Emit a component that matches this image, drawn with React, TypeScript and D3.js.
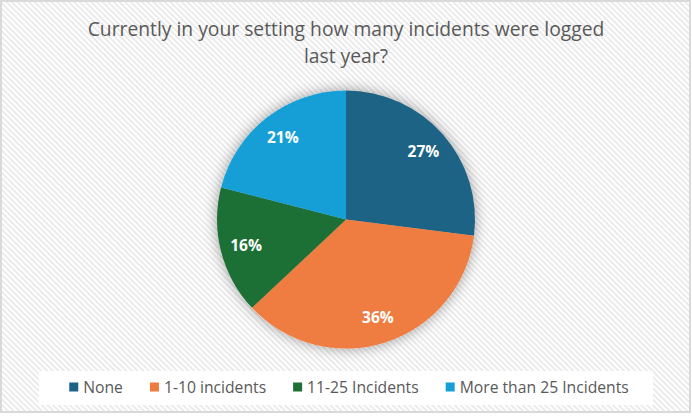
import { useMemo } from "react";
import * as d3 from "d3";

const categories = ["None", "1-10 incidents", "11-25 Incidents", "More than 25 Incidents"];
const shares = [27, 36, 16, 21];
const colors = ["#1d6386", "#ef7b3f", "#1e7036", "#159fd6"];
const titleLines = ["Currently in your setting how many incidents were logged", "last year?"];

const W = 692;
const H = 416;
const FONT = "'Open Sans', 'Noto Sans', sans-serif";

function measure(text: string, size: number) {
  const ctx = document.createElement("canvas").getContext("2d");
  if (!ctx) return text.length * size * 0.55;
  ctx.font = `${size}px ${FONT}`;
  return ctx.measureText(text).width;
}

export default function App() {
  const cx = 346;
  const cy = 219.5;
  const r = 129;

  const arcs = useMemo(
    () =>
      d3
        .pie<number>()
        .sort(null)
        .value((d) => d)(shares),
    [],
  );
  const arcGen = d3.arc<d3.PieArcDatum<number>>().innerRadius(0).outerRadius(r);
  const labelArc = d3.arc<d3.PieArcDatum<number>>().innerRadius(r * 0.8).outerRadius(r * 0.8);

  // legend layout: swatch, gap, label, then fixed spacing between items
  const legendSize = 15.7;
  const sw = 9;
  const items = categories.map((c) => ({ c, w: sw + 5 + measure(c, legendSize) }));
  const gap = 27;
  const total = d3.sum(items, (d) => d.w) + gap * (items.length - 1);
  let lx = W / 2 + 3 - total / 2;
  const legendPos = items.map((d) => {
    const x = lx;
    lx += d.w + gap;
    return x;
  });
  const ly = 387;

  return (
    <svg
      width={W}
      height={H}
      viewBox={`0 0 ${W} ${H}`}
      style={{ position: "absolute", left: 0, top: 0, display: "block" }}
    >
      <defs>
        <pattern id="hatch" width="4" height="4" patternUnits="userSpaceOnUse" patternTransform="rotate(45)">
          <rect width="4" height="4" fill="#ffffff" />
          <rect width="4" height="1.8" fill="#e9e9e9" />
        </pattern>
        <filter id="glow" x="-30%" y="-30%" width="160%" height="160%">
          <feDropShadow dx="0" dy="0" stdDeviation="7" floodColor="#000" floodOpacity="0.38" />
        </filter>
      </defs>
      <rect width={W} height={H} fill="#fff" />
      <rect x={1} y={1} width={689} height={411} fill="url(#hatch)" stroke="#d9d9d9" strokeWidth={2} />

      {titleLines.map((t, i) => (
        <text
          key={i}
          x={W / 2}
          y={36 + i * 27}
          textAnchor="middle"
          fontFamily={FONT}
          fontSize={19.3}
          fill="#595959"
        >
          {t}
        </text>
      ))}

      <g transform={`translate(${cx},${cy})`}>
        <g filter="url(#glow)">
          {arcs.map((a, i) => (
            <path key={i} d={arcGen(a) ?? ""} fill={colors[i]} />
          ))}
        </g>
        {arcs.map((a, i) => {
          const [x, y] = labelArc.centroid(a);
          return (
            <text
              key={i}
              x={x}
              y={y}
              dy="0.35em"
              textAnchor="middle"
              fontFamily={FONT}
              fontWeight="bold"
              fontSize={15.5}
              fill="#fff"
            >
              {shares[i]}%
            </text>
          );
        })}
      </g>

      <rect x={39} y={371} width={614} height={34} fill="#fff" />
      {items.map((d, i) => (
        <g key={d.c} transform={`translate(${legendPos[i]},${ly})`}>
          <rect x={0} y={-sw / 2} width={sw} height={sw} fill={colors[i]} />
          <text x={sw + 5} y={0} dy="0.35em" fontFamily={FONT} fontSize={legendSize} fill="#595959">
            {d.c}
          </text>
        </g>
      ))}
    </svg>
  );
}
